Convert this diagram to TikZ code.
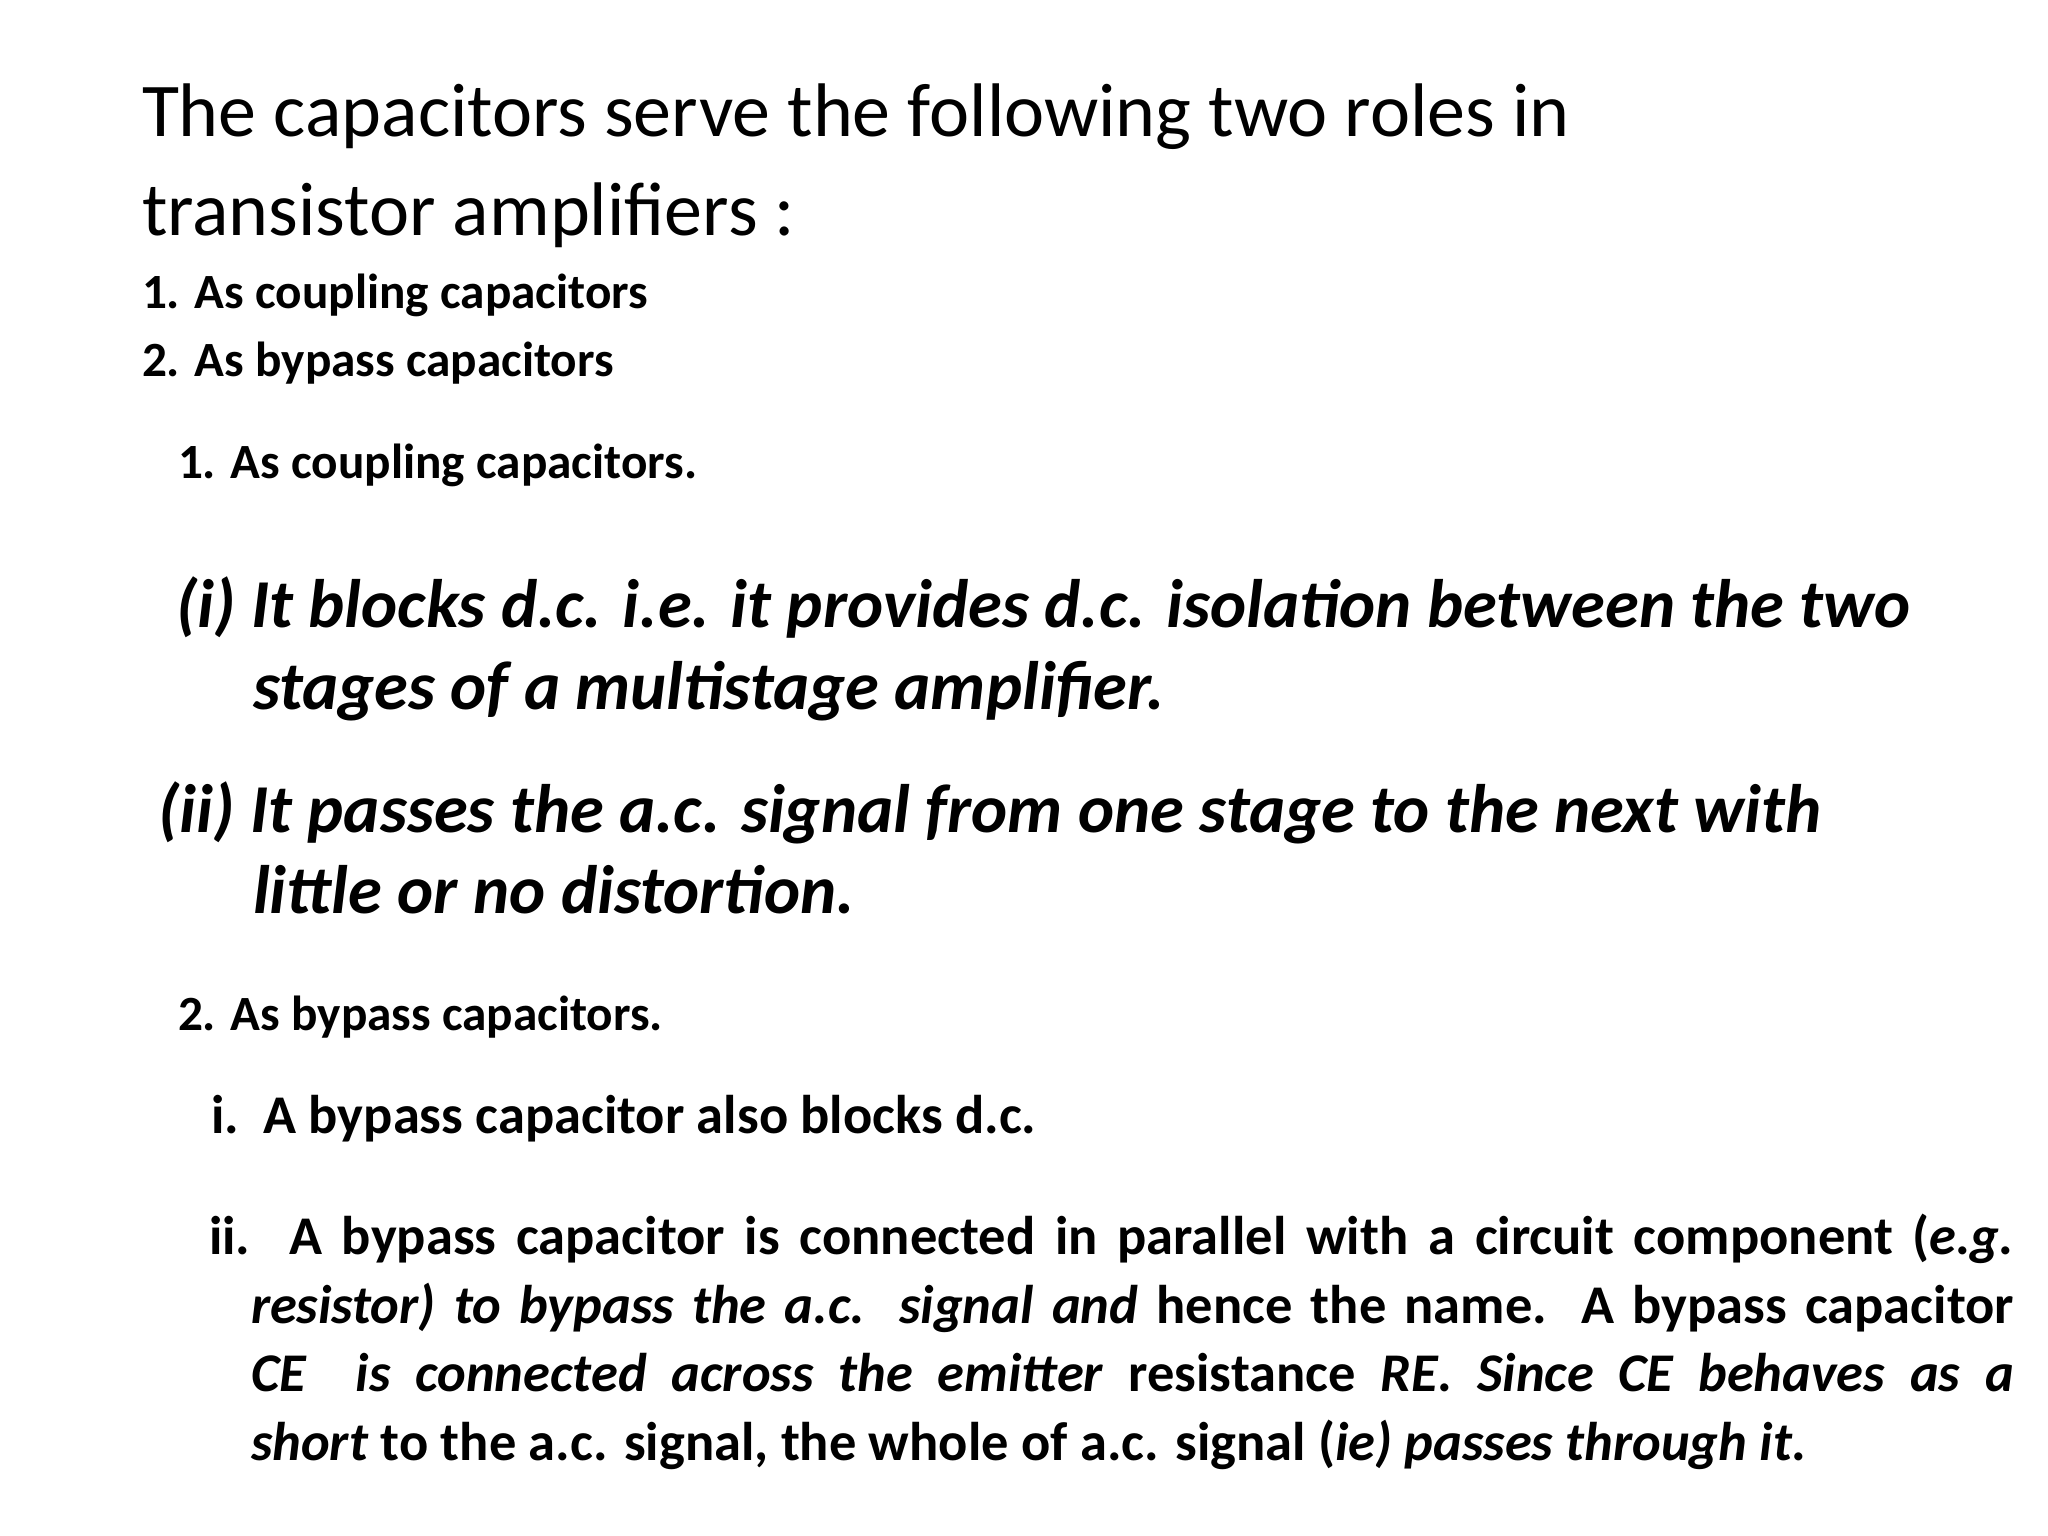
\documentclass[tikz,border=0pt]{standalone}
\usepackage{fontspec}
\setmainfont{Carlito}
\begin{document}
\begin{tikzpicture}[x=0.01cm,y=-0.01cm,
  t/.style={anchor=base west,inner sep=0pt,outer sep=0pt},
  big/.style={t,font=\fontsize{21.6}{26}\selectfont},
  sm/.style={t,font=\fontsize{14}{17}\selectfont\bfseries},
  it/.style={t,font=\fontsize{19.5}{23}\selectfont\bfseries\itshape},
  md/.style={t,font=\fontsize{15.5}{19}\selectfont\bfseries}]
\useasboundingbox (0,0) rectangle (2048,1536);
\node[big] (h1) at (142,136) {The capacitors serve the following two roles in};
\node[big] (h2) at (142,235) {transistor amplifiers :};
\node[sm] (l1) at (142,308) {1. As coupling capacitors};
\node[sm] (l2) at (142,376) {2. As bypass capacitors};
\node[sm] (s1) at (178,478) {1. As coupling capacitors.};
\node[it] (a1) at (176,627) {(\textup{\itshape i}) It blocks d.c. i.e. it provides d.c. isolation between the two};
\node[it] (a2) at (253,709) {stages of a multistage amplifier.};
\node[it] (b1) at (158,832) {(ii) It passes the a.c. signal from one stage to the next with};
\node[it] (b2) at (253,913) {little or no distortion.};
\node[sm] (s2) at (178,1030) {2. As bypass capacitors.};
\node[md] (c1) at (211,1133) {i.\ \ A bypass capacitor also blocks d.c.};
\node[md] (d1) at (209,1254) {\makebox[18.04cm][s]{ii. A bypass capacitor is connected in parallel with a circuit component (\textit{e.g.}}};
\node[md] (d2) at (251,1323) {\makebox[17.62cm][s]{\textit{resistor) to bypass the a.c. signal and} hence the name. A bypass capacitor}};
\node[md] (d3) at (251,1391) {\makebox[17.62cm][s]{\textit{CE \ is connected across the emitter} resistance \textit{RE. Since CE behaves as a}}};
\node[md] (d4) at (251,1460) {\textit{short} to the a.c. signal, the whole of a.c. signal (\textit{ie) passes through it.}};
\end{tikzpicture}
\end{document}
